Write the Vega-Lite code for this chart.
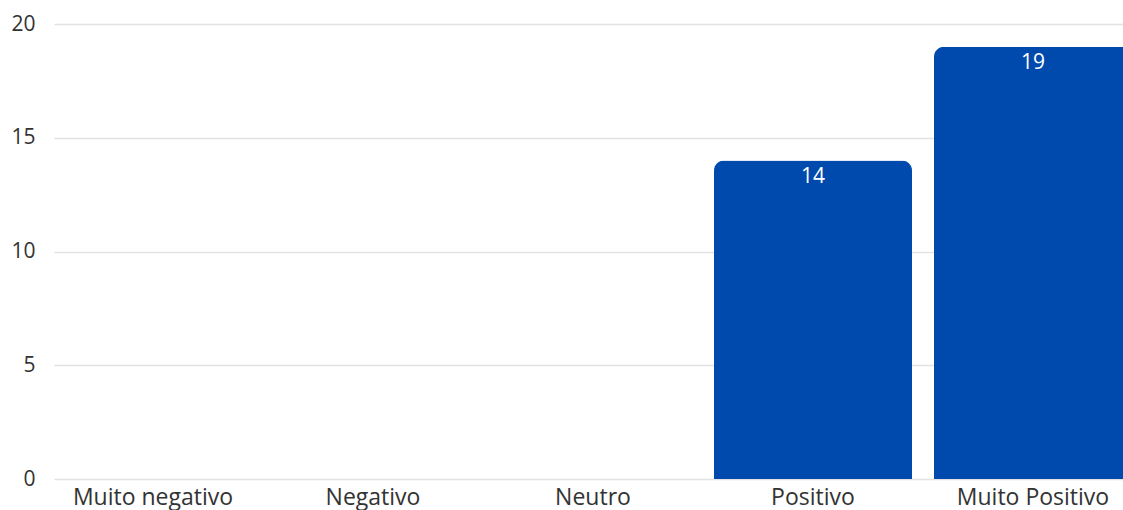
{
  "$schema": "https://vega.github.io/schema/vega-lite/v6.json",
  "autosize": {"type": "none"},
  "padding": {"left": 54, "top": 24, "right": 0, "bottom": 31},
  "width": 1078,
  "height": 455,
  "background": "white",
  "config": {
    "font": "Open Sans",
    "view": {"stroke": null},
    "axis": {
      "labelFont": "Open Sans",
      "labelColor": "#333333",
      "domain": false,
      "ticks": false,
      "title": null
    }
  },
  "data": {
    "values": [
      {"categoria": "Muito negativo", "respostas": 0},
      {"categoria": "Negativo", "respostas": 0},
      {"categoria": "Neutro", "respostas": 0},
      {"categoria": "Positivo", "respostas": 14},
      {"categoria": "Muito Positivo", "respostas": 19}
    ]
  },
  "encoding": {
    "x": {
      "field": "categoria",
      "type": "nominal",
      "sort": null,
      "scale": {"paddingInner": 0.1, "paddingOuter": 0},
      "axis": {"labelAngle": 0, "labelPadding": 7, "labelFontSize": 23, "grid": false}
    },
    "y": {
      "field": "respostas",
      "type": "quantitative",
      "scale": {"domain": [0, 20]},
      "axis": {
        "values": [0, 5, 10, 15, 20],
        "labelPadding": 19,
        "labelFontSize": 21,
        "grid": true,
        "gridColor": "#e2e2e2",
        "gridWidth": 1.5
      }
    }
  },
  "layer": [
    {
      "mark": {
        "type": "bar",
        "color": "#004aad",
        "cornerRadiusTopLeft": 10,
        "cornerRadiusTopRight": 10
      }
    },
    {
      "transform": [{"filter": "datum.respostas > 0"}],
      "mark": {
        "type": "text",
        "color": "white",
        "fontSize": 21,
        "baseline": "top",
        "dy": 5
      },
      "encoding": {"text": {"field": "respostas", "type": "quantitative"}}
    }
  ]
}
